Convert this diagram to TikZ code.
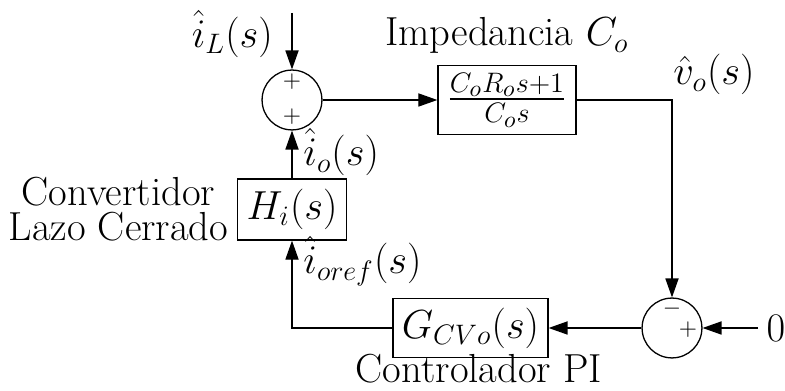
\documentclass[tikz,border=0pt]{standalone}
\usepackage{amsmath,amssymb}
\usepackage{xcolor}
\usepackage{tikz}
\usetikzlibrary{calc,arrows.meta,positioning}
\tikzset{
  ar/.style={-{Triangle[length=8.1pt,width=5.6pt]},line width=0.55pt},
  box/.style={draw,line width=0.55pt,inner sep=2pt},
  sumx/.style={draw,circle,line width=0.55pt,minimum size=25.5pt,inner sep=0pt},
  sgn/.style={inner sep=0pt,font=\fontsize{10}{12}\selectfont}
}

\begin{document}
\begin{tikzpicture}[x=0.426pt,y=-0.426pt,font=\fontsize{17.28}{14.9}\selectfont]
\useasboundingbox (0,0) rectangle (785,391);
% bloques
\node[sumx] (s1) at (292,100) {};
\node[box,minimum width=58.8pt,minimum height=29.4pt] (Z) at (507,100) {$\frac{C_oR_os+1}{C_os}$};
\node[box,minimum width=46.4pt,minimum height=26pt] (H) at (292,209.5) {$H_i(s)$};
\node[box,minimum width=66pt,minimum height=25.1pt] (G) at (470.5,328) {$G_{CVo}(s)$};
\node[sumx] (s2) at (672,328) {};
% signos
\node[sgn] at ($(s1)+(0,-18)$) {$+$};
\node[sgn] at ($(s1)+(0,17)$) {$+$};
\node[sgn] at ($(s2)+(0,-19)$) {$-$};
\node[sgn] at ($(s2)+(16,2)$) {$+$};
% entradas
\coordinate (iL) at (292,13);
\coordinate (z0) at (758,328);
% conexiones
\draw[ar] (iL) -- (s1.north);
\draw[ar] (s1.east) -- (Z.west);
\draw[ar] (Z.east) -| (s2.north);
\draw[ar] (z0) -- (s2.east);
\draw[ar] (s2.west) -- (G.east);
\draw[ar] (G.west) -| (H.south);
\draw[ar] (H.north) -- (s1.south);
% textos
\node[anchor=east] (tiL) at (281,34) {$\hat{i}_L(s)$};
\node[anchor=base] (tZ) at (507,46) {Impedancia $C_o$};
\node[anchor=base west,inner sep=0pt] (tvo) at (673,85) {$\hat{v}_o(s)$};
\node[anchor=base west,inner sep=0pt] (tio) at (303,166) {$\hat{i}_o(s)$};
\node[anchor=base west,inner sep=0pt] (tir) at (303,274) {$\hat{i}_{oref}(s)$};
\node[anchor=east,align=center,inner sep=3.5pt] (tH) at (H.west) {Convertidor\\Lazo Cerrado};
\node[anchor=base] (tG) at (479,383) {Controlador PI};
\node[right,inner sep=3.5pt] (t0) at (z0) {$0$};
\end{tikzpicture}
\end{document}
